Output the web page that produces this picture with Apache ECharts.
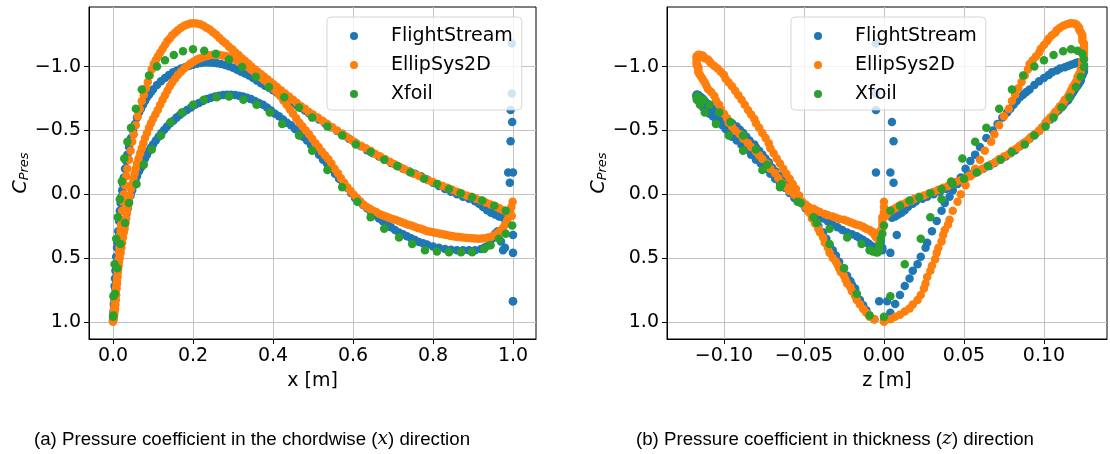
<!DOCTYPE html>
<html>
<head>
<meta charset="utf-8">
<script src="https://cdn.jsdelivr.net/npm/echarts@6/dist/echarts.min.js"></script>
<style>
  html, body { margin: 0; padding: 0; background: #ffffff; }
  #chart { width: 1110px; height: 454px; }
</style>
</head>
<body>
<div id="chart"></div>
<script>
// Surface pressure on the blade section. Every point is [x, z, Cp]:
// chordwise position x [m], thickness position z [m], pressure coefficient.

// FlightStream, suction side (leading edge -> trailing edge)
const fsUpper = [
  [0,0,0.99],[0.001,0.004,0.93],[0.002,0.007,0.86],[0.003,0.010,0.79],[0.004,0.013,0.72],[0.005,0.016,0.66],
  [0.006,0.018,0.60],[0.007,0.021,0.55],[0.008,0.023,0.49],[0.010,0.026,0.42],[0.011,0.027,0.38],[0.013,0.030,0.29],
  [0.015,0.033,0.21],[0.017,0.036,0.13],[0.019,0.038,0.07],[0.021,0.041,0.02],[0.023,0.043,-0.03],[0.025,0.046,-0.08],
  [0.027,0.048,-0.13],[0.030,0.051,-0.20],[0.033,0.054,-0.26],[0.036,0.057,-0.31],[0.040,0.060,-0.37],[0.045,0.064,-0.44],
  [0.050,0.068,-0.50],[0.055,0.071,-0.55],[0.060,0.074,-0.60],[0.065,0.077,-0.64],[0.070,0.079,-0.67],[0.075,0.081,-0.70],
  [0.080,0.083,-0.73],[0.085,0.085,-0.76],[0.090,0.087,-0.78],[0.095,0.089,-0.80],[0.100,0.091,-0.82],[0.110,0.094,-0.855],
  [0.120,0.097,-0.885],[0.130,0.100,-0.91],[0.140,0.103,-0.935],[0.150,0.105,-0.955],[0.160,0.108,-0.97],[0.170,0.110,-0.985],
  [0.180,0.113,-0.995],[0.190,0.115,-1.005],[0.200,0.117,-1.015],[0.210,0.119,-1.022],[0.220,0.120,-1.028],[0.230,0.121,-1.032],
  [0.240,0.122,-1.033],[0.250,0.123,-1.03],[0.260,0.124,-1.027],[0.270,0.124,-1.02],[0.280,0.125,-1.013],[0.290,0.125,-1.003],
  [0.300,0.125,-0.99],[0.310,0.125,-0.975],[0.320,0.125,-0.96],[0.330,0.124,-0.945],[0.340,0.124,-0.93],[0.350,0.123,-0.91],
  [0.360,0.123,-0.89],[0.370,0.122,-0.87],[0.380,0.121,-0.85],[0.390,0.120,-0.835],[0.400,0.119,-0.815],[0.410,0.118,-0.795],
  [0.420,0.117,-0.775],[0.430,0.116,-0.755],[0.440,0.115,-0.735],[0.450,0.113,-0.715],[0.460,0.112,-0.695],[0.470,0.110,-0.675],
  [0.480,0.109,-0.655],[0.490,0.107,-0.635],[0.500,0.106,-0.615],[0.515,0.104,-0.585],[0.530,0.101,-0.555],[0.545,0.099,-0.525],
  [0.560,0.097,-0.495],[0.575,0.094,-0.465],[0.590,0.091,-0.435],[0.605,0.088,-0.405],[0.620,0.085,-0.375],[0.635,0.082,-0.345],
  [0.650,0.079,-0.32],[0.665,0.076,-0.295],[0.680,0.072,-0.27],[0.695,0.069,-0.245],[0.710,0.066,-0.22],[0.725,0.062,-0.20],
  [0.740,0.059,-0.18],[0.755,0.055,-0.16],[0.770,0.052,-0.14],[0.785,0.049,-0.115],[0.800,0.045,-0.09],[0.815,0.042,-0.065],
  [0.830,0.039,-0.04],[0.845,0.035,-0.02],[0.860,0.031,0.0],[0.875,0.027,0.02],[0.890,0.024,0.035],[0.905,0.020,0.055],
  [0.915,0.018,0.075],[0.925,0.015,0.10],[0.935,0.013,0.125],[0.945,0.011,0.145],[0.955,0.009,0.16],[0.965,0.007,0.175],
  [0.975,0.005,0.185]
];

// FlightStream, pressure side
const fsLower = [
  [0.0005,-0.006,0.98],[0.001,-0.009,0.95],[0.002,-0.011,0.91],[0.003,-0.013,0.87],[0.004,-0.015,0.83],[0.005,-0.017,0.78],
  [0.006,-0.018,0.74],[0.007,-0.020,0.71],[0.008,-0.021,0.68],[0.009,-0.023,0.64],[0.011,-0.025,0.58],[0.013,-0.028,0.53],
  [0.015,-0.030,0.48],[0.017,-0.032,0.44],[0.019,-0.034,0.40],[0.022,-0.036,0.35],[0.025,-0.038,0.30],[0.028,-0.041,0.25],
  [0.031,-0.043,0.20],[0.034,-0.046,0.15],[0.037,-0.049,0.11],[0.040,-0.052,0.06],[0.044,-0.054,0.01],[0.048,-0.057,-0.03],
  [0.052,-0.060,-0.07],[0.056,-0.062,-0.10],[0.060,-0.065,-0.14],[0.065,-0.068,-0.18],[0.070,-0.070,-0.21],[0.075,-0.072,-0.25],
  [0.080,-0.074,-0.28],[0.085,-0.076,-0.31],[0.090,-0.078,-0.34],[0.095,-0.080,-0.365],[0.100,-0.081,-0.39],[0.107,-0.084,-0.42],
  [0.114,-0.086,-0.45],[0.121,-0.088,-0.48],[0.128,-0.090,-0.505],[0.135,-0.092,-0.53],[0.143,-0.095,-0.555],[0.151,-0.098,-0.575],
  [0.159,-0.100,-0.60],[0.167,-0.102,-0.62],[0.175,-0.104,-0.64],[0.185,-0.106,-0.66],[0.195,-0.108,-0.68],[0.205,-0.109,-0.70],
  [0.215,-0.111,-0.715],[0.225,-0.112,-0.73],[0.235,-0.113,-0.745],[0.245,-0.114,-0.755],[0.255,-0.115,-0.765],[0.265,-0.116,-0.772],
  [0.275,-0.116,-0.777],[0.285,-0.117,-0.78],[0.295,-0.117,-0.78],[0.305,-0.117,-0.777],[0.315,-0.117,-0.772],[0.325,-0.117,-0.765],
  [0.335,-0.117,-0.755],[0.345,-0.116,-0.745],[0.355,-0.116,-0.73],[0.365,-0.115,-0.715],[0.375,-0.114,-0.70],[0.385,-0.113,-0.68],
  [0.395,-0.111,-0.655],[0.405,-0.109,-0.63],[0.415,-0.107,-0.61],[0.425,-0.105,-0.585],[0.435,-0.103,-0.56],[0.445,-0.101,-0.54],
  [0.455,-0.099,-0.51],[0.465,-0.097,-0.48],[0.475,-0.095,-0.45],[0.485,-0.092,-0.42],[0.495,-0.089,-0.385],[0.505,-0.086,-0.35],
  [0.515,-0.083,-0.31],[0.525,-0.080,-0.27],[0.535,-0.077,-0.24],[0.545,-0.074,-0.20],[0.555,-0.071,-0.16],[0.565,-0.068,-0.12],
  [0.575,-0.065,-0.085],[0.585,-0.062,-0.05],[0.595,-0.059,-0.01],[0.605,-0.056,0.03],[0.615,-0.053,0.06],[0.625,-0.050,0.085],
  [0.635,-0.047,0.11],[0.645,-0.044,0.14],[0.655,-0.041,0.165],[0.665,-0.038,0.19],[0.675,-0.035,0.215],[0.685,-0.032,0.24],
  [0.695,-0.029,0.26],[0.705,-0.026,0.28],[0.715,-0.023,0.30],[0.725,-0.020,0.315],[0.735,-0.017,0.33],[0.745,-0.015,0.345],
  [0.755,-0.013,0.36],[0.765,-0.011,0.375],[0.775,-0.010,0.385],[0.785,-0.009,0.395],[0.800,-0.007,0.41],[0.815,-0.006,0.42],
  [0.830,-0.006,0.43],[0.845,-0.005,0.435],[0.860,-0.005,0.44],[0.875,-0.004,0.44],[0.890,-0.004,0.44],[0.905,-0.004,0.44],
  [0.920,-0.003,0.43],[0.930,-0.003,0.415],[0.940,-0.003,0.40],[0.948,-0.002,0.35],[0.955,-0.002,0.31],[0.962,-0.002,0.29],
  [0.970,-0.002,0.37],[0.975,-0.001,0.44],[0.980,-0.001,0.42]
];

// FlightStream, trailing-edge panels
const fsTrailing = [
  [0.997,-0.005,-1.18],[0.997,-0.005,-0.79],[0.994,-0.005,-0.66],[0.998,0.005,-0.565],[0.994,0.006,-0.415],
  [0.988,-0.005,-0.17],[1.000,0.004,-0.17],[0.992,0.006,-0.09],[1.000,0.008,0.32],[1.000,0.004,0.46],
  [1.000,-0.003,0.84],[1.000,0.002,0.84]
];

// EllipSys2D, suction side
const esUpper = [
  [0,0,1.0],[0.001,0.004,0.98],[0.002,0.007,0.96],[0.003,0.010,0.945],[0.004,0.013,0.92],[0.005,0.016,0.895],
  [0.006,0.018,0.865],[0.007,0.021,0.83],[0.008,0.023,0.79],[0.009,0.025,0.74],[0.010,0.026,0.70],[0.011,0.027,0.65],
  [0.012,0.029,0.60],[0.013,0.030,0.56],[0.014,0.032,0.51],[0.015,0.033,0.46],[0.016,0.034,0.42],[0.017,0.036,0.37],
  [0.018,0.037,0.32],[0.019,0.038,0.28],[0.020,0.040,0.24],[0.021,0.041,0.20],[0.023,0.043,0.13],[0.025,0.046,0.06],
  [0.027,0.048,0.0],[0.030,0.051,-0.07],[0.033,0.054,-0.14],[0.036,0.057,-0.20],[0.040,0.060,-0.27],[0.044,0.063,-0.34],
  [0.048,0.067,-0.41],[0.052,0.069,-0.47],[0.057,0.072,-0.54],[0.062,0.075,-0.61],[0.067,0.078,-0.67],[0.072,0.080,-0.73],
  [0.077,0.082,-0.78],[0.082,0.084,-0.83],[0.087,0.086,-0.88],[0.092,0.088,-0.93],[0.097,0.090,-0.98],[0.102,0.091,-1.02],
  [0.107,0.093,-1.05],[0.112,0.095,-1.08],[0.118,0.097,-1.11],[0.124,0.098,-1.14],[0.130,0.100,-1.17],[0.136,0.102,-1.20],
  [0.142,0.103,-1.22],[0.148,0.105,-1.245],[0.155,0.107,-1.265],[0.162,0.108,-1.285],[0.170,0.110,-1.305],[0.178,0.112,-1.32],
  [0.186,0.114,-1.33],[0.194,0.116,-1.337],[0.202,0.117,-1.34],[0.210,0.119,-1.338],[0.218,0.120,-1.332],[0.226,0.121,-1.32],
  [0.234,0.122,-1.305],[0.242,0.122,-1.29],[0.250,0.123,-1.27],[0.258,0.124,-1.25],[0.266,0.124,-1.225],[0.274,0.124,-1.20],
  [0.282,0.125,-1.18],[0.290,0.125,-1.155],[0.298,0.125,-1.135],[0.306,0.125,-1.11],[0.314,0.125,-1.09],[0.322,0.125,-1.065],
  [0.330,0.124,-1.045],[0.338,0.124,-1.025],[0.346,0.124,-1.0],[0.354,0.123,-0.98],[0.362,0.123,-0.96],[0.370,0.122,-0.94],
  [0.378,0.121,-0.92],[0.386,0.121,-0.90],[0.394,0.120,-0.88],[0.402,0.119,-0.86],[0.410,0.118,-0.84],[0.420,0.117,-0.815],
  [0.430,0.116,-0.79],[0.440,0.115,-0.765],[0.450,0.113,-0.74],[0.460,0.112,-0.715],[0.470,0.110,-0.69],[0.480,0.109,-0.67],
  [0.490,0.107,-0.645],[0.500,0.106,-0.625],[0.512,0.104,-0.60],[0.524,0.102,-0.575],[0.536,0.101,-0.55],[0.548,0.099,-0.525],
  [0.560,0.097,-0.50],[0.572,0.095,-0.475],[0.584,0.092,-0.45],[0.596,0.090,-0.425],[0.608,0.087,-0.40],[0.620,0.085,-0.38],
  [0.632,0.083,-0.36],[0.644,0.080,-0.34],[0.656,0.078,-0.315],[0.668,0.075,-0.295],[0.680,0.072,-0.275],[0.692,0.070,-0.255],
  [0.704,0.067,-0.235],[0.716,0.064,-0.215],[0.728,0.061,-0.195],[0.740,0.059,-0.18],[0.752,0.056,-0.16],[0.764,0.053,-0.145],
  [0.776,0.051,-0.125],[0.788,0.048,-0.11],[0.800,0.045,-0.095],[0.812,0.043,-0.08],[0.824,0.040,-0.065],[0.836,0.037,-0.05],
  [0.848,0.034,-0.035],[0.860,0.031,-0.02],[0.872,0.028,-0.005],[0.884,0.025,0.01],[0.896,0.022,0.02],[0.908,0.019,0.035],
  [0.920,0.017,0.05],[0.932,0.014,0.065],[0.944,0.011,0.08],[0.956,0.009,0.095],[0.966,0.007,0.11],[0.976,0.005,0.125],
  [0.985,0.003,0.14],[0.992,0.002,0.155],[0.997,0.001,0.17]
];

// EllipSys2D, pressure side
const esLower = [
  [0.0005,-0.006,0.98],[0.001,-0.009,0.96],[0.002,-0.011,0.93],[0.003,-0.013,0.90],[0.004,-0.015,0.865],[0.005,-0.017,0.83],
  [0.006,-0.018,0.80],[0.007,-0.020,0.76],[0.008,-0.021,0.73],[0.009,-0.023,0.70],[0.010,-0.024,0.67],[0.011,-0.025,0.64],
  [0.012,-0.027,0.61],[0.013,-0.028,0.58],[0.014,-0.029,0.555],[0.015,-0.030,0.53],[0.017,-0.032,0.50],[0.019,-0.034,0.46],
  [0.021,-0.035,0.42],[0.023,-0.037,0.38],[0.025,-0.038,0.34],[0.027,-0.040,0.30],[0.029,-0.041,0.27],[0.031,-0.043,0.23],
  [0.033,-0.045,0.19],[0.035,-0.047,0.14],[0.037,-0.049,0.10],[0.039,-0.051,0.06],[0.042,-0.053,0.01],[0.045,-0.055,-0.04],
  [0.048,-0.057,-0.08],[0.051,-0.059,-0.12],[0.054,-0.061,-0.16],[0.057,-0.063,-0.20],[0.060,-0.065,-0.24],[0.064,-0.067,-0.28],
  [0.068,-0.069,-0.32],[0.072,-0.071,-0.36],[0.076,-0.072,-0.40],[0.080,-0.074,-0.44],[0.085,-0.076,-0.48],[0.090,-0.078,-0.52],
  [0.095,-0.080,-0.555],[0.100,-0.081,-0.59],[0.106,-0.083,-0.625],[0.112,-0.085,-0.66],[0.118,-0.087,-0.70],[0.124,-0.089,-0.74],
  [0.130,-0.091,-0.775],[0.136,-0.093,-0.81],[0.142,-0.095,-0.845],[0.148,-0.097,-0.875],[0.155,-0.099,-0.905],[0.162,-0.100,-0.935],
  [0.170,-0.102,-0.96],[0.178,-0.104,-0.985],[0.186,-0.106,-1.005],[0.194,-0.108,-1.025],[0.202,-0.109,-1.04],[0.210,-0.110,-1.055],
  [0.218,-0.112,-1.065],[0.226,-0.113,-1.075],[0.234,-0.113,-1.082],[0.242,-0.114,-1.088],[0.250,-0.115,-1.09],[0.258,-0.116,-1.092],
  [0.266,-0.116,-1.09],[0.274,-0.116,-1.087],[0.282,-0.117,-1.082],[0.290,-0.117,-1.075],[0.298,-0.117,-1.065],[0.306,-0.117,-1.055],
  [0.314,-0.117,-1.04],[0.322,-0.117,-1.025],[0.330,-0.117,-1.01],[0.338,-0.116,-0.995],[0.346,-0.116,-0.975],[0.354,-0.116,-0.955],
  [0.362,-0.115,-0.935],[0.370,-0.114,-0.915],[0.378,-0.113,-0.895],[0.386,-0.112,-0.875],[0.394,-0.111,-0.85],[0.402,-0.110,-0.825],
  [0.410,-0.108,-0.80],[0.418,-0.106,-0.77],[0.426,-0.105,-0.735],[0.434,-0.103,-0.70],[0.442,-0.102,-0.665],[0.450,-0.100,-0.63],
  [0.458,-0.098,-0.595],[0.466,-0.097,-0.56],[0.474,-0.095,-0.53],[0.482,-0.093,-0.50],[0.490,-0.090,-0.47],[0.498,-0.088,-0.435],
  [0.506,-0.085,-0.40],[0.514,-0.083,-0.37],[0.522,-0.080,-0.335],[0.530,-0.078,-0.305],[0.538,-0.076,-0.275],[0.546,-0.073,-0.24],
  [0.554,-0.071,-0.20],[0.562,-0.068,-0.165],[0.570,-0.066,-0.125],[0.578,-0.064,-0.09],[0.586,-0.061,-0.055],[0.594,-0.059,-0.025],
  [0.602,-0.056,0.005],[0.610,-0.054,0.03],[0.618,-0.052,0.055],[0.626,-0.049,0.08],[0.634,-0.047,0.10],[0.642,-0.044,0.115],
  [0.650,-0.042,0.13],[0.658,-0.040,0.14],[0.666,-0.037,0.155],[0.674,-0.035,0.165],[0.682,-0.032,0.175],[0.690,-0.030,0.185],
  [0.698,-0.028,0.195],[0.706,-0.025,0.20],[0.714,-0.023,0.21],[0.722,-0.021,0.22],[0.730,-0.019,0.23],[0.738,-0.017,0.24],
  [0.746,-0.015,0.245],[0.754,-0.013,0.255],[0.762,-0.012,0.265],[0.770,-0.011,0.27],[0.778,-0.009,0.28],[0.786,-0.008,0.29],
  [0.794,-0.007,0.295],[0.802,-0.007,0.30],[0.810,-0.006,0.305],[0.818,-0.006,0.31],[0.826,-0.006,0.315],[0.834,-0.005,0.32],
  [0.842,-0.005,0.325],[0.850,-0.005,0.33],[0.858,-0.005,0.333],[0.866,-0.005,0.336],[0.874,-0.004,0.34],[0.882,-0.004,0.342],
  [0.890,-0.004,0.344],[0.898,-0.004,0.346],[0.906,-0.004,0.348],[0.914,-0.003,0.349],[0.922,-0.003,0.348],[0.930,-0.003,0.345],
  [0.938,-0.003,0.34],[0.946,-0.003,0.333],[0.954,-0.002,0.322],[0.962,-0.002,0.305],[0.969,-0.002,0.285],[0.975,-0.001,0.265],
  [0.980,-0.001,0.24],[0.985,-0.001,0.21],[0.989,-0.001,0.18],[0.993,0.0,0.14],[0.996,0.0,0.10],[0.999,0.0,0.06]
];

// Xfoil, suction side
const xfUpper = [
  [0,0,0.96],[0.001,0.004,0.80],[0.004,0.013,0.55],[0.008,0.023,0.35],[0.012,0.029,0.18],[0.017,0.036,0.04],
  [0.022,0.042,-0.10],[0.028,0.049,-0.28],[0.036,0.057,-0.41],[0.045,0.064,-0.52],[0.057,0.072,-0.67],[0.072,0.080,-0.82],
  [0.090,0.087,-0.93],[0.110,0.094,-1.0],[0.130,0.100,-1.05],[0.152,0.106,-1.09],[0.175,0.112,-1.12],[0.200,0.117,-1.135],
  [0.228,0.121,-1.125],[0.257,0.124,-1.10],[0.290,0.125,-1.056],[0.323,0.125,-0.996],[0.357,0.123,-0.92],[0.390,0.120,-0.84],
  [0.428,0.116,-0.76],[0.465,0.111,-0.68],[0.498,0.106,-0.60],[0.536,0.101,-0.53],[0.573,0.094,-0.46],[0.607,0.088,-0.39],
  [0.644,0.080,-0.33],[0.678,0.073,-0.27],[0.711,0.065,-0.22],[0.744,0.058,-0.17],[0.778,0.050,-0.12],[0.810,0.043,-0.08],
  [0.840,0.036,-0.04],[0.869,0.029,-0.008],[0.898,0.022,0.024],[0.923,0.016,0.05],[0.953,0.010,0.09],[0.982,0.004,0.13]
];

// Xfoil, pressure side
const xfLower = [
  [0.001,-0.009,0.95],[0.005,-0.017,0.78],[0.011,-0.025,0.58],[0.019,-0.034,0.39],[0.030,-0.042,0.225],[0.040,-0.052,0.07],
  [0.059,-0.064,-0.08],[0.077,-0.073,-0.23],[0.097,-0.080,-0.35],[0.120,-0.088,-0.46],[0.144,-0.096,-0.565],[0.172,-0.103,-0.64],
  [0.200,-0.109,-0.70],[0.227,-0.113,-0.74],[0.259,-0.116,-0.76],[0.290,-0.117,-0.765],[0.326,-0.117,-0.74],[0.359,-0.115,-0.70],
  [0.392,-0.112,-0.64],[0.423,-0.105,-0.55],[0.465,-0.097,-0.46],[0.498,-0.088,-0.34],[0.536,-0.076,-0.19],[0.573,-0.065,-0.055],
  [0.611,-0.054,0.06],[0.644,-0.044,0.18],[0.678,-0.034,0.27],[0.715,-0.023,0.34],[0.748,-0.014,0.39],[0.780,-0.009,0.44],
  [0.810,-0.007,0.45],[0.840,-0.005,0.455],[0.870,-0.004,0.455],[0.898,-0.004,0.455],[0.928,-0.003,0.43],[0.944,-0.003,0.40],
  [0.965,-0.002,0.35],[0.982,-0.001,0.31],[0.998,0.0,0.245]
];

// Axis tick positions
const xTicks = [0, 0.2, 0.4, 0.6, 0.8, 1.0];
const zTicks = [-0.10, -0.05, 0, 0.05, 0.10];
const cpTicks = [-1.0, -0.5, 0, 0.5, 1.0];

const seriesNames = ['FlightStream', 'EllipSys2D', 'Xfoil'];
const seriesColors = ['#1f77b4', '#ff7f0e', '#2ca02c'];

const captionA = '(a) Pressure coefficient in the chordwise ({m|x}) direction';
const captionB = '(b) Pressure coefficient in thickness ({m|z}) direction';

const FONT = 'DejaVu Sans';
const minus = (s) => s.replace('-', '\u2212');
const fmt = (d) => (v) => minus((Math.abs(v) < 1e-9 ? 0 : v).toFixed(d));

const groups = [fsUpper.concat(fsLower, fsTrailing), esUpper.concat(esLower), xfUpper.concat(xfLower)];

function xAxisFor(gridIndex, ticks, digits, min, max, name) {
  return {
    type: 'value', gridIndex, min, max,
    name, nameLocation: 'middle', nameGap: 33,
    nameTextStyle: { fontFamily: FONT, fontSize: 19, color: '#000' },
    axisLine: { show: true, onZero: false, lineStyle: { color: '#000', width: 1 } },
    axisTick: { show: true, customValues: ticks, length: 5, lineStyle: { color: '#000', width: 1 } },
    axisLabel: { customValues: ticks, formatter: fmt(digits), margin: 8,
                 fontFamily: FONT, fontSize: 19, color: '#000' },
    splitLine: { show: true, lineStyle: { color: '#c2c2c2', width: 1 } }
  };
}

function yAxisFor(gridIndex) {
  return {
    type: 'value', gridIndex, inverse: true, min: -1.467, max: 1.135,
    name: '{c|C}{s|Pres}', nameLocation: 'middle', nameRotate: 90, nameGap: 57,
    nameTextStyle: {
      color: '#000',
      rich: {
        c: { fontFamily: FONT, fontStyle: 'italic', fontSize: 19, lineHeight: 19, verticalAlign: 'top', color: '#000' },
        s: { fontFamily: FONT, fontStyle: 'italic', fontSize: 13, lineHeight: 13, padding: [12, 0, 0, 0],
             verticalAlign: 'bottom', color: '#000' }
      }
    },
    axisLine: { show: true, onZero: false, lineStyle: { color: '#000', width: 1 } },
    axisTick: { show: true, customValues: cpTicks, length: 5, lineStyle: { color: '#000', width: 1 } },
    axisLabel: { customValues: cpTicks, formatter: fmt(1), margin: 8,
                 fontFamily: FONT, fontSize: 19, color: '#000' },
    splitLine: { show: true, lineStyle: { color: '#c2c2c2', width: 1 } }
  };
}

function legendAt(left) {
  return {
    data: seriesNames, orient: 'vertical', left, top: 17,
    padding: [9, 9, 6, 23], itemGap: 9, itemWidth: 8, itemHeight: 8,
    icon: 'circle', selectedMode: false,
    backgroundColor: 'rgba(255,255,255,0.8)',
    borderColor: 'rgba(204,204,204,0.8)', borderWidth: 1, borderRadius: 4,
    formatter: (name) => '{g| }{n|' + name + '}',
    textStyle: {
      fontFamily: FONT, fontSize: 19, lineHeight: 20, color: '#000',
      rich: {
        g: { width: 28, fontFamily: FONT, fontSize: 19, lineHeight: 20 },
        n: { fontFamily: FONT, fontSize: 19, lineHeight: 20, color: '#000' }
      }
    }
  };
}

const series = [];
groups.forEach((pts, i) => {
  const common = {
    name: seriesNames[i], type: 'scatter', symbol: 'circle', symbolSize: 8.5,
    itemStyle: { color: seriesColors[i], opacity: 1 },
    emphasis: { disabled: true }, animation: false, z: 2 + i
  };
  series.push(Object.assign({}, common, { xAxisIndex: 0, yAxisIndex: 0, data: pts.map(p => [p[0], p[2]]) }));
  series.push(Object.assign({}, common, { xAxisIndex: 1, yAxisIndex: 1, data: pts.map(p => [p[1], p[2]]) }));
});

const chart = echarts.init(document.getElementById('chart'), null, { renderer: 'canvas' });
chart.setOption({
  animation: false,
  backgroundColor: '#ffffff',
  grid: [
    { left: 89, top: 7, width: 447, height: 332, show: true, borderColor: '#000', borderWidth: 1, backgroundColor: 'transparent' },
    { left: 667, top: 7, width: 440, height: 332, show: true, borderColor: '#000', borderWidth: 1, backgroundColor: 'transparent' }
  ],
  xAxis: [
    xAxisFor(0, xTicks, 1, -0.06, 1.0575, 'x [m]'),
    xAxisFor(1, zTicks, 2, -0.1356, 0.1394, 'z [m]')
  ],
  yAxis: [yAxisFor(0), yAxisFor(1)],
  legend: [legendAt(327), legendAt(791)],
  series,
  graphic: [
    { type: 'text', left: 34, top: 430, silent: true,
      style: { text: captionA, fontFamily: 'Liberation Sans', fontSize: 18.7, fill: '#000',
               rich: { m: { fontFamily: 'DejaVu Serif', fontStyle: 'italic', fontSize: 18.7, fill: '#000' } } } },
    { type: 'text', left: 636, top: 430, silent: true,
      style: { text: captionB, fontFamily: 'Liberation Sans', fontSize: 18.7, fill: '#000',
               rich: { m: { fontFamily: 'DejaVu Serif', fontStyle: 'italic', fontSize: 18.7, fill: '#000' } } } }
  ]
});
</script>
</body>
</html>
